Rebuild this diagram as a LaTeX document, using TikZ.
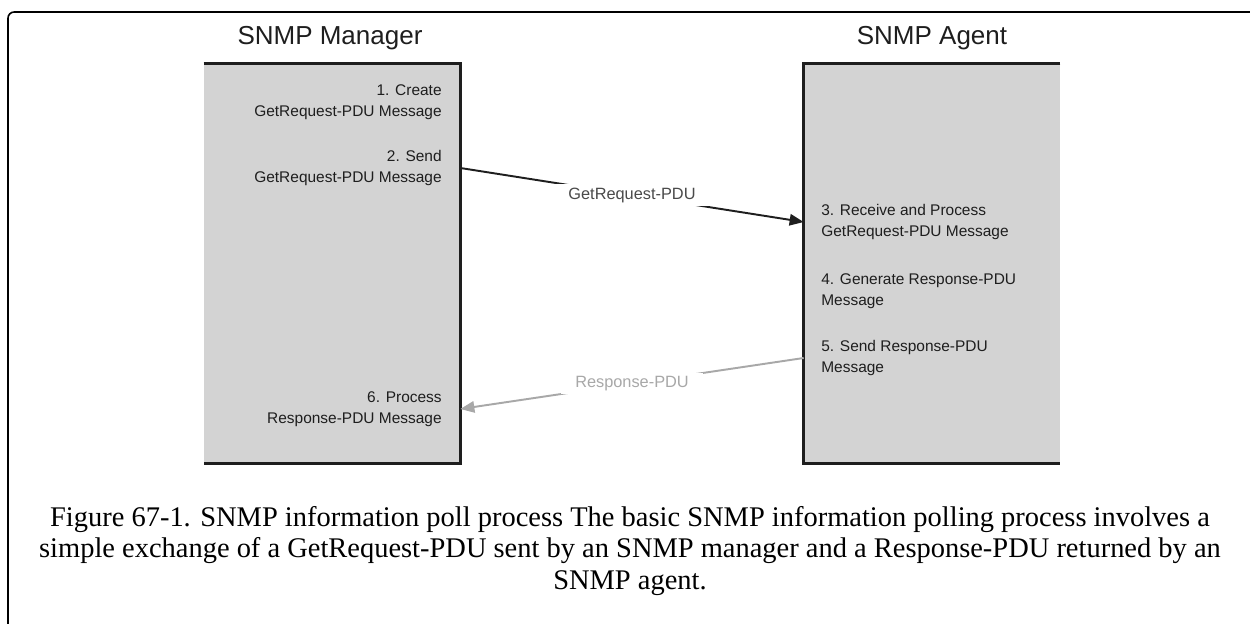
\documentclass[tikz,border=0pt]{standalone}
\usepackage{fontspec}
\setmainfont{Liberation Serif}
\newfontfamily\diagfont{Liberation Sans}
\usepackage{tikz}
\usetikzlibrary{positioning,arrows.meta,calc}
\definecolor{paneGray}{HTML}{D3D3D3}
\definecolor{inkDark}{HTML}{1E1E1E}
\definecolor{reqGray}{HTML}{4A4A4A}
\definecolor{respGray}{HTML}{A8A8A8}
\tikzset{
  frame/.style={draw=black,line width=0.9pt,rounded corners=3.5pt},
  pane/.style={fill=paneGray,minimum width=5.12cm,minimum height=7.98cm,inner sep=0pt},
  edge/.style={draw=inkDark,line width=1.8pt},
  title/.style={font=\diagfont\fontsize{14.8}{17}\selectfont,text=inkDark,anchor=base},
  steptext/.style={font=\diagfont\fontsize{8.8}{11.9}\selectfont,text=inkDark,inner sep=0pt},
  arr/.style={-{Triangle[length=8pt,width=6.5pt]},line width=1.1pt,draw=inkDark},
  arrsoft/.style={-{Triangle[length=8pt,width=6.5pt]},line width=1.1pt,draw=respGray},
  pdulabel/.style={font=\diagfont\fontsize{9.3}{11}\selectfont,fill=white,inner xsep=8pt,inner ysep=2pt},
  caption/.style={font=\fontsize{16.2}{17.9}\selectfont,align=center,text=black}
}
\begin{document}
\begin{tikzpicture}[x=0.02cm,y=-0.02cm]
\useasboundingbox (0,0) rectangle (1250,624);
\clip (0,0) rectangle (1250,624);
\draw[frame] (8,12) rectangle (1262,636);

\node[title] (mgrtitle) at (330,45) {SNMP Manager};
\node[title] (agttitle) at (932,45) {SNMP Agent};

\node[pane] (mgr) at (332,263.5) {};
\node[pane] (agt) at (932,263.5) {};
\draw[edge] (mgr.north west) -- (mgr.north east) -- (mgr.south east) -- (mgr.south west);
\draw[edge] (agt.north east) -- (agt.north west) -- (agt.south west) -- (agt.south east);

\node[steptext, anchor=east, align=right] (create) at (442,102) {1. Create\\GetRequest-PDU Message};
\node[steptext, anchor=east, align=right] (send) at (442,168) {2. Send\\GetRequest-PDU Message};
\node[steptext, anchor=east, align=right] (proc) at (442,409) {6. Process\\Response-PDU Message};
\node[steptext, anchor=west, align=left] (recv) at (821,222) {3. Receive and Process\\GetRequest-PDU Message};
\node[steptext, anchor=west, align=left] (gen) at (821,291.5) {4. Generate Response-PDU\\Message};
\node[steptext, anchor=west, align=left] (reply) at (821,358) {5. Send Response-PDU\\Message};

\draw[arr] (mgr.east |- send) -- node[pdulabel, text=reqGray] (req) {GetRequest-PDU} (agt.west |- recv);
\draw[arrsoft] (agt.west |- reply) -- node[pdulabel, text=respGray] (resp) {Response-PDU} (mgr.east |- proc);

\node[caption] (cap) at (630,551) {Figure 67-1. SNMP information poll process The basic SNMP information polling process involves a\\simple exchange of a GetRequest-PDU sent by an SNMP manager and a Response-PDU returned by an\\SNMP agent.};
\end{tikzpicture}
\end{document}
